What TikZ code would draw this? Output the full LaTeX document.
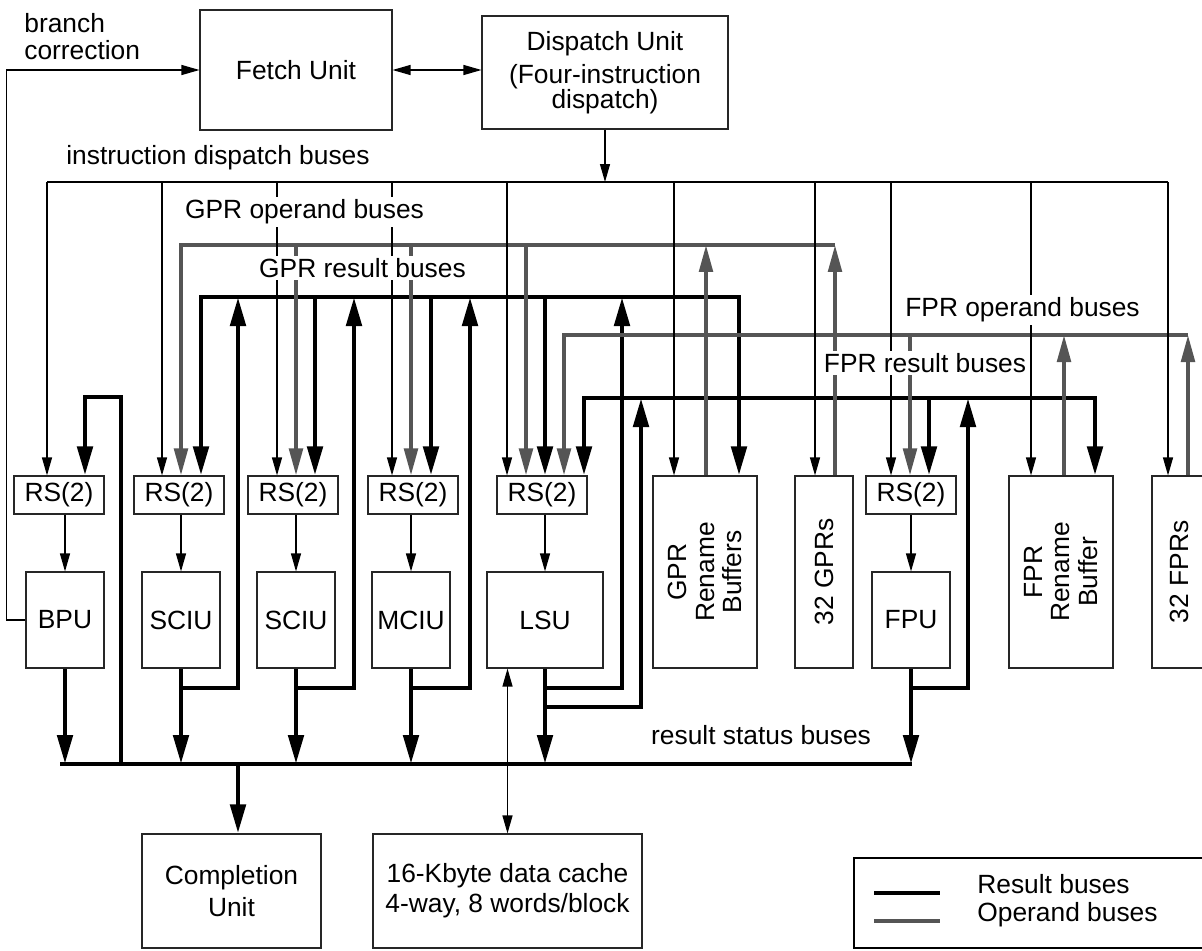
\documentclass[tikz,border=0pt]{standalone}
\usepackage{fontspec}
\setsansfont{Liberation Sans}
\usetikzlibrary{arrows.meta}
\definecolor{opgray}{RGB}{85,85,85}

\begin{document}
\begin{tikzpicture}[
  x=0.02cm, y=-0.02cm,
  font=\sffamily\fontsize{15}{15.5}\selectfont,
  box/.style={draw=black!85, line width=0.65pt, align=center, inner sep=0pt},
  rsbox/.style={box, minimum width=1.8cm, minimum height=0.76cm},
  unitbox/.style={box, minimum width=1.56cm, minimum height=1.92cm},
  regbox/.style={box, minimum height=3.84cm},
  buslabel/.style={fill=white, inner sep=1.5pt},
  ctrl/.style={line width=0.7pt},
  ctrlarrow/.style={ctrl, -{Triangle[length=0.36cm, width=0.2cm]}},
  ctrlboth/.style={ctrl, {Triangle[length=0.36cm, width=0.2cm]}-{Triangle[length=0.36cm, width=0.2cm]}},
  res/.style={line width=2.8pt},
  resarrow/.style={res, -{Triangle[length=0.58cm, width=0.3cm]}},
  resboth/.style={res, {Triangle[length=0.58cm, width=0.3cm]}-{Triangle[length=0.58cm, width=0.3cm]}},
  oper/.style={line width=2.2pt, draw=opgray},
  operarrow/.style={oper, -{Triangle[length=0.54cm, width=0.27cm]}}
]
\useasboundingbox (0,0) rectangle (1202,950);
\clip (0,0) rectangle (1202,950);

\node[box, minimum width=3.84cm, minimum height=2.4cm] (fetch) at (296,70) {Fetch Unit};
\node[box, minimum width=4.92cm, minimum height=2.26cm] (dispatch) at (605,72.5)
  {Dispatch Unit\\[3pt](Four-instruction\\[-1.3pt]dispatch)};
\node[anchor=north west, align=left, inner sep=0pt] (brc) at (24,13) {branch\\correction};

\node[rsbox] (rsb) at (59,495) {RS(2)};
\node[rsbox] (rss1) at (179,495) {RS(2)};
\node[rsbox] (rss2) at (293,495) {RS(2)};
\node[rsbox] (rsm) at (413,495) {RS(2)};
\node[rsbox] (rsl) at (542,495) {RS(2)};
\node[rsbox] (rsf) at (911,495) {RS(2)};

\node[unitbox] (bpu) at (65,620) {BPU};
\node[unitbox] (sciu1) at (181,620) {SCIU};
\node[unitbox] (sciu2) at (296,620) {SCIU};
\node[unitbox] (mciu) at (411,620) {MCIU};
\node[unitbox, minimum width=2.32cm] (lsu) at (545,620) {LSU};
\node[unitbox] (fpu) at (911,620) {FPU};

\node[regbox, minimum width=2.08cm] (gren) at (705,572) {};
\node[regbox, minimum width=1.16cm] (gprs) at (824,572) {};
\node[regbox, minimum width=2.08cm] (fren) at (1061,572) {};
\node[regbox, minimum width=1.08cm] (fprs) at (1179,572) {};
\node[rotate=90, align=center] (grentxt) at (gren) {GPR\\Rename\\Buffers};
\node[rotate=90] (gprstxt) at (gprs) {32 GPRs};
\node[rotate=90, align=center] (frentxt) at (fren) {FPR\\Rename\\Buffer};
\node[rotate=90] (fprstxt) at (fprs) {32 FPRs};

\node[box, minimum width=3.58cm, minimum height=2.28cm] (compl) at (231.5,891) {Completion\\[3pt]Unit};
\node[box, minimum width=5.38cm, minimum height=2.28cm] (cache) at (507.5,891)
  {16-Kbyte data cache\\[1.5pt]4-way, 8 words/block};

\node[draw, line width=1.1pt, minimum width=7.2cm, minimum height=1.8cm] (legend) at (1034,903) {};
\node[anchor=base west, inner sep=0pt] (lgres) at (977,893) {Result buses};
\node[anchor=base west, inner sep=0pt] (lgop) at (977,921) {Operand buses};
\draw[res] ([xshift=-2.06cm]lgres.base west) -- ([xshift=-0.74cm]lgres.base west);
\draw[oper] ([xshift=-2.06cm]lgop.base west) -- ([xshift=-0.74cm]lgop.base west);

\coordinate (ib) at (0,182);
\coordinate (br1) at (0,688);
\coordinate (br2) at (0,707);
\coordinate (rsbus) at (0,764);

\draw[res] (60,764) coordinate (statl) -- (912,764) coordinate (statr);
\foreach \n in {bpu, sciu1, sciu2, mciu, lsu, fpu}
  \draw[resarrow] (\n.south) -- (\n.south |- rsbus);
\coordinate (tcompl) at (238,764);
\draw[resarrow] (tcompl) -- (tcompl |- compl.north);
\coordinate (bloop) at (121,764);
\draw[resarrow] (bloop) |- (85,397) coordinate (bturn) -- (bturn |- rsb.north);

\coordinate (grl) at (201,297);
\coordinate (grgren) at (739,297);
\draw[resboth] (grl |- rss1.north) -- (grl) -- (grgren) -- (grgren |- gren.north);
\foreach \x/\n in {315/rss2, 431/rsm, 545/rsl}{
  \coordinate (gr\n) at (\x,297);
  \draw[resarrow] (gr\n) -- (gr\n |- \n.north);
}
\foreach \n/\x in {sciu1/238, sciu2/354, mciu/470, lsu/622}{
  \coordinate (up\n) at (\x,297);
  \draw[resarrow] (\n.south |- br1) -| (up\n);
}

\coordinate (frl) at (584,398);
\coordinate (frfren) at (1095,398);
\coordinate (frfpu) at (929,398);
\draw[resboth] (frl |- rsl.north) -- (frl) -- (frfren) -- (frfren |- fren.north);
\draw[resarrow] (frfpu) -- (frfpu |- rsf.north);
\coordinate (uplsuf) at (641,398);
\coordinate (upfpu) at (968,398);
\draw[resarrow] (lsu.south |- br2) -| (uplsuf);
\draw[resarrow] (fpu.south |- br1) -| (upfpu);

\coordinate (gol) at (181,245);
\coordinate (gogren) at (706,245);
\coordinate (gogprs) at (835,245);
\draw[operarrow] (gogprs) -- (gol) -- (gol |- rss1.north);
\foreach \x/\n in {296/rss2, 411/rsm, 526/rsl}{
  \coordinate (go\n) at (\x,245);
  \draw[operarrow] (go\n) -- (go\n |- \n.north);
}
\draw[operarrow] (gogren |- gren.north) -- (gogren);
\draw[operarrow] (gogprs |- gprs.north) -- (gogprs);

\coordinate (fol) at (564,335);
\coordinate (fofpu) at (910,335);
\coordinate (fofren) at (1064,335);
\coordinate (fofprs) at (1188,335);
\draw[operarrow] (fofprs) -- (fol) -- (fol |- rsl.north);
\draw[operarrow] (fofpu) -- (fofpu |- rsf.north);
\draw[operarrow] (fofren |- fren.north) -- (fofren);
\draw[operarrow] (fofprs |- fprs.north) -- (fofprs);

\draw[ctrlarrow] (dispatch.south) -- (dispatch.south |- ib);
\foreach \x/\n in {47/rsb, 162/rss1, 277/rss2, 392/rsm, 507/rsl, 674/gren, 815/gprs, 891/rsf, 1031/fren, 1168/fprs}{
  \coordinate (i\n) at (\x,182);
  \draw[ctrlarrow] (i\n) -- (i\n |- \n.north);
}
\draw[ctrl] (irsb) -- (ifprs);
\draw[ctrlboth] (fetch.east) -- (fetch.east -| dispatch.west);
\draw[ctrlarrow] (bpu.west) -- ++(-19,0) |- (fetch.west);
\draw[ctrlboth] (cache.north |- lsu.south) -- (cache.north);
\foreach \u/\r in {bpu/rsb, sciu1/rss1, sciu2/rss2, mciu/rsm, lsu/rsl, fpu/rsf}
  \draw[ctrlarrow] (\r.south -| \u.north) -- (\u.north);

\node[buslabel] (lbinstr) at (218,158) {instruction dispatch buses};
\node[buslabel] (lbgop) at (304.5,212) {GPR operand buses};
\node[buslabel] (lbgres) at (362.5,268) {GPR result buses};
\node[buslabel] (lbfop) at (1022.5,310) {FPR operand buses};
\node[buslabel] (lbfres) at (925,363) {FPR result buses};
\node[buslabel] (lbstat) at (761,735) {result status buses};

\end{tikzpicture}
\end{document}
